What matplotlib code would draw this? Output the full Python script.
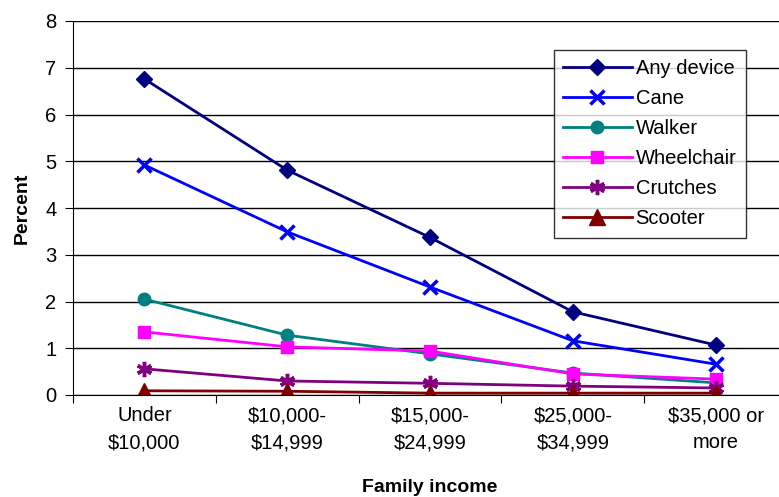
import matplotlib.pyplot as plt
import numpy as np

plt.rcParams['font.family'] = ['Liberation Sans', 'DejaVu Sans']

categories = ['Under\n$10,000', '$10,000-\n$14,999', '$15,000-\n$24,999',
              '$25,000-\n$34,999', '$35,000 or\nmore']
any_device = [6.76, 4.81, 3.37, 1.78, 1.07]
cane = [4.92, 3.49, 2.31, 1.16, 0.66]
walker = [2.05, 1.28, 0.88, 0.47, 0.26]
wheelchair = [1.35, 1.03, 0.94, 0.45, 0.34]
crutches = [0.56, 0.30, 0.25, 0.19, 0.15]
scooter = [0.09, 0.08, 0.04, 0.04, 0.04]

series = [
    ('Any device', any_device, '#000080', 'D', 8),
    ('Cane', cane, '#0000FF', 'x', 10),
    ('Walker', walker, '#008080', 'o', 9),
    ('Wheelchair', wheelchair, '#FF00FF', 's', 9),
    ('Crutches', crutches, '#800080', '*', 11),
    ('Scooter', scooter, '#800000', '^', 11),
]

fig = plt.figure(figsize=(7.79, 4.97), dpi=100)
ax = fig.add_axes([73 / 779, 1 - 395 / 497, (787 - 73) / 779, (395 - 21) / 497])

x = np.arange(len(categories))
for name, vals, col, mk, ms in series:
    kw = dict(markeredgewidth=2.5) if mk in ('x',) else dict(markeredgecolor=col)
    if mk == '*':
        mk = (6, 2, 0)
        kw = dict(markeredgewidth=2.5)
    ax.plot(x, vals, color=col, marker=mk, markersize=ms, linewidth=2,
            label=name, **kw)

ax.set_xlim(-0.5, len(categories) - 0.5)
ax.set_ylim(0, 8)
ax.set_yticks(range(0, 9))
ax.yaxis.grid(True, color='black', linewidth=1)
ax.set_axisbelow(True)
ax.set_xticks(np.arange(-0.5, len(categories), 1))
ax.set_xticklabels([])
ax.set_xticks(x, minor=True)
ax.set_xticklabels([c.replace('$', r'\$') for c in categories], minor=True,
                   fontsize=14.5, linespacing=1.55)
ax.tick_params(axis='x', which='minor', length=0, pad=8)
ax.tick_params(axis='x', which='major', length=6, direction='out')
ax.tick_params(axis='y', length=6, labelsize=14.5, pad=6)
ax.spines['top'].set_visible(False)
ax.spines['right'].set_visible(False)

ax.set_ylabel('Percent', fontsize=14, fontweight='bold', labelpad=10)
ax.set_xlabel('Family income', fontsize=14, fontweight='bold', labelpad=19)

leg = ax.legend(loc='upper left', bbox_to_anchor=((554 - 73) / 714, 1 - (50 - 21) / 374),
                fontsize=14.5, frameon=True, fancybox=False, edgecolor='black',
                borderaxespad=0, handlelength=3.4, labelspacing=0.55,
                borderpad=0.45, handletextpad=0.2)
leg.get_frame().set_linewidth(1)

fig.savefig('out.png', dpi=100)
